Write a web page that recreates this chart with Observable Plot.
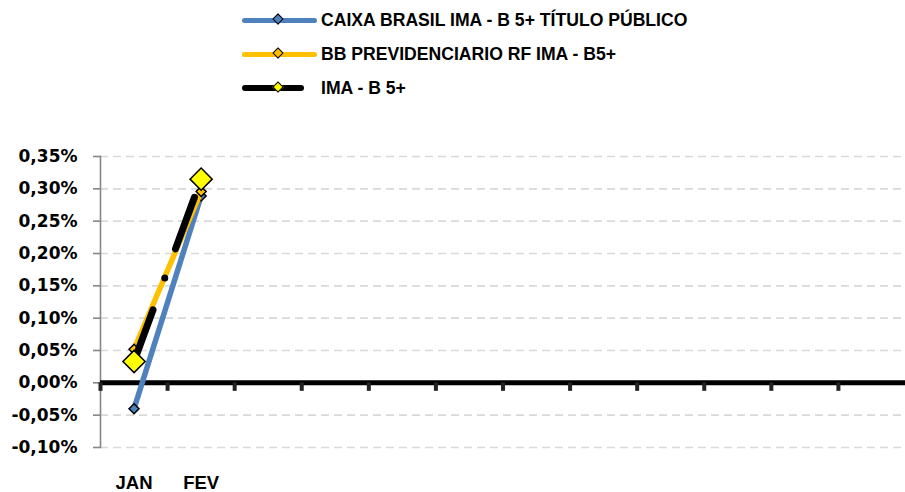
<!DOCTYPE html>
<html>
<head>
<meta charset="utf-8">
<script src="https://cdn.jsdelivr.net/npm/d3@7"></script>
<script src="https://cdn.jsdelivr.net/npm/@observablehq/plot@0.6"></script>
<style>
  html, body { margin: 0; padding: 0; background: #fff; }
  #wrap { width: 905px; position: relative; }
  #legend { position: relative; width: 905px; height: 110px; font-family: "Liberation Sans", Arial, sans-serif; font-weight: bold; }
  .sw { position: absolute; border-radius: 3px; }
  .dm { position: absolute; width: 6px; height: 6px; border: 1.6px solid #000; transform: rotate(45deg); }
  .lt { position: absolute; left: 321px; font-size: 17.6px; line-height: 18px; white-space: nowrap; color: #000; }
</style>
</head>
<body>
<div id="wrap">
  <div id="legend"></div>
  <div id="chart"></div>
</div>
<script>
// ---- data ----
const seriesNames = ["CAIXA BRASIL IMA - B 5+ TÍTULO PÚBLICO", "BB PREVIDENCIARIO RF IMA - B5+", "IMA - B 5+"];
const monthLabels = ["JAN", "FEV", "", "", "", "", "", "", "", "", "", ""];
const caixa = [-0.040, 0.289];   // % ao mês
const bb    = [0.052, 0.296];
const imab  = [0.033, 0.315];
const yTicks = [-0.10, -0.05, 0.00, 0.05, 0.10, 0.15, 0.20, 0.25, 0.30, 0.35];

const colors = ["#4F81BD", "#FFC000", "#000000"];
const markerFill = ["#4F81BD", "#FFC000", "#FFFF00"];

// ---- legend (HTML) ----
const legend = document.getElementById("legend");
const rowsY = [20, 54, 88];
seriesNames.forEach((name, i) => {
  const cy = rowsY[i];
  const sw = document.createElement("div");
  sw.className = "sw";
  const w = i === 2 ? 62 : 75;
  const h = i === 2 ? 6 : 5;
  sw.style.cssText = `left:242px;top:${cy - h / 2}px;width:${w}px;height:${h}px;background:${colors[i]};`;
  legend.appendChild(sw);
  const dm = document.createElement("div");
  dm.className = "dm";
  dm.style.cssText = `left:${279 - 4.6}px;top:${cy - 4.6}px;background:${markerFill[i]};`;
  legend.appendChild(dm);
  const t = document.createElement("div");
  t.className = "lt";
  t.style.top = (cy - 8.8) + "px";
  t.textContent = name;
  legend.appendChild(t);
});

// ---- chart ----
const X = (d, i) => i + 0.5;
const fmt = d => d.toFixed(2).replace(".", ",") + "%";

const chart = Plot.plot({
  width: 905,
  height: 382,
  marginLeft: 100,
  marginRight: 0,
  marginTop: 46,
  marginBottom: 45,
  style: { background: "#fff", overflow: "visible", fontFamily: "Liberation Sans, Arial, sans-serif" },
  x: { domain: [0, monthLabels.length], axis: null },
  y: { domain: [-0.10, 0.35], axis: null },
  marks: [
    Plot.ruleY(yTicks.filter(d => d !== 0), { stroke: "#d9d9d9", strokeWidth: 1.6, strokeDasharray: "8,5" }),
    Plot.frame({ anchor: "left", stroke: "#868686", strokeWidth: 1.6 }),
    Plot.axisY({
      ticks: yTicks, tickSize: 7, tickPadding: 16, tickFormat: fmt,
      stroke: "#868686", strokeWidth: 1.6, fill: "#000",
      fontSize: 17, fontWeight: "bold", fontFamily: "DejaVu Sans"
    }),
    Plot.text(monthLabels, {
      x: X, frameAnchor: "bottom", text: d => d, lineAnchor: "top", dy: 28,
      fill: "#000", fontSize: 18.5, fontWeight: "bold", fontFamily: "Liberation Sans"
    }),
    Plot.ruleY([0], { stroke: "#000", strokeWidth: 5 }),
    Plot.ruleX(d3.range(0, monthLabels.length), { y1: 0, y2: 0, insetBottom: -8.5, stroke: "#222", strokeWidth: 4 }),
    // CAIXA
    Plot.line(caixa, { x: X, y: d => d, stroke: colors[0], strokeWidth: 5.5, strokeLinecap: "round" }),
    Plot.dot(caixa, { x: X, y: d => d, symbol: "diamond2", r: 4.5, fill: markerFill[0], stroke: "#000", strokeWidth: 1.5 }),
    // BB
    Plot.line(bb, { x: X, y: d => d, stroke: colors[1], strokeWidth: 5.5, strokeLinecap: "round" }),
    Plot.dot(bb, { x: X, y: d => d, symbol: "diamond2", r: 4.5, fill: markerFill[1], stroke: "#000", strokeWidth: 1.5 }),
    // IMA-B 5+
    Plot.line(imab, { x: X, y: d => d, stroke: colors[2], strokeWidth: 7, strokeLinecap: "round", strokeDasharray: "55,34,0,31" }),
    Plot.dot(imab, { x: X, y: d => d, symbol: "diamond2", r: 10, fill: markerFill[2], stroke: "#000", strokeWidth: 1.5 })
  ]
});
document.getElementById("chart").appendChild(chart);
</script>
</body>
</html>
